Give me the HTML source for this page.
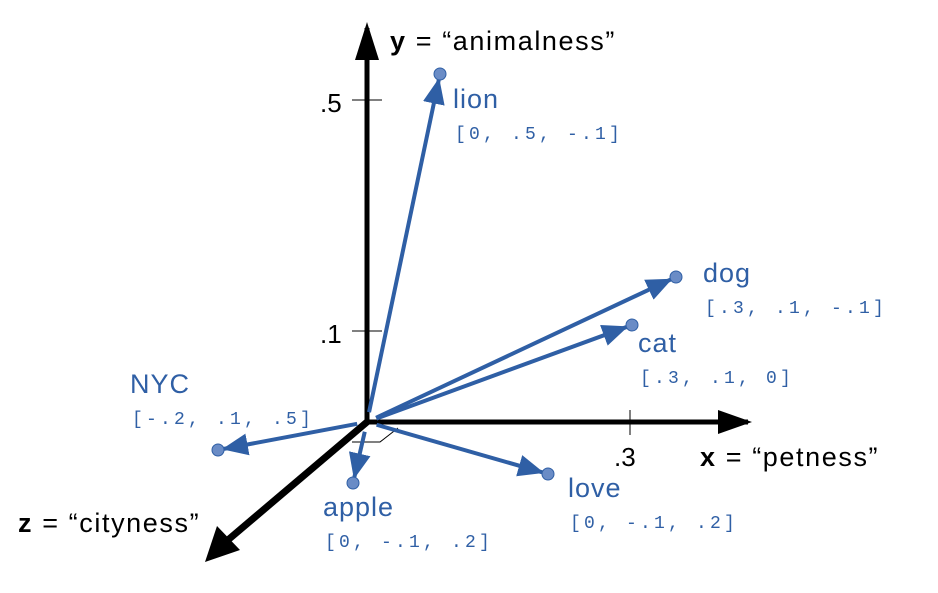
<!DOCTYPE html>
<html><head><meta charset="utf-8"><style>
html,body{margin:0;padding:0;background:#fff;}
svg{display:block;font-family:"Liberation Sans",sans-serif;}
.n{fill:#2f5fa5;font-size:27px;letter-spacing:1px;}
.v{fill:#2f5fa5;font-size:18px;letter-spacing:3.2px;font-family:"Liberation Mono",monospace;}
.a{fill:#000;font-size:27px;letter-spacing:1.6px;}
.t{fill:#000;font-size:26px;}
</style></head><body>
<svg id="c" width="938" height="593" viewBox="0 0 938 593">
<defs>
<marker id="bb" markerWidth="26" markerHeight="22" refX="24" refY="11" orient="auto" markerUnits="userSpaceOnUse" viewBox="0 0 26 22"><path d="M0,0 L26,11 L0,22z" fill="#2f5fa5"/></marker>
</defs>
<g>
<line x1="367" y1="422" x2="367" y2="28" stroke="#000" stroke-width="5"/>
<path d="M355,60 L367,22 L379,60z" fill="#000"/>
<line x1="367" y1="422" x2="748" y2="422" stroke="#000" stroke-width="5"/>
<path d="M718,410 L752,422 L718,434z" fill="#000"/>
<line x1="367" y1="422" x2="222" y2="545" stroke="#000" stroke-width="7"/>
<path d="M205,562 L217,526 L240,550z" fill="#000"/>
<line x1="352" y1="100" x2="382" y2="100" stroke="#000" stroke-width="1"/>
<line x1="352" y1="331" x2="382" y2="331" stroke="#000" stroke-width="1"/>
<line x1="630" y1="410" x2="630" y2="435" stroke="#000" stroke-width="1"/>
<path d="M352,442 L380,442 L398,428" fill="none" stroke="#000" stroke-width="1"/>
<text class="a" x="390" y="50"><tspan font-weight="bold">y</tspan> = “animalness”</text>
<text class="a" x="700" y="466"><tspan font-weight="bold">x</tspan> = “petness”</text>
<text class="a" x="18" y="532"><tspan font-weight="bold">z</tspan> = “cityness”</text>
<text class="t" x="320" y="112">.5</text>
<text class="t" x="320" y="343">.1</text>
<text class="t" x="614" y="466">.3</text>
</g>
<g id="vecs"></g>
</svg>
<script>
// words and their vectors (labels), with projected 2D screen-plane coordinates
const words = ["lion","dog","cat","NYC","apple","love"];
const vecLabels = ["[0, .5, -.1]","[.3, .1, -.1]","[.3, .1, 0]","[-.2, .1, .5]","[0, -.1, .2]","[0, -.1, .2]"];
const projX = [73, 309, 265, -149, -14, 181];
const projY = [348, 145, 97, -28, -61, -52];
const labelDX = [13, 27, 6, -88, -30, 20];
const labelDY = [34, 5, 27, -57, 33, 23];
const ox = 367, oy = 422;
function sx(v){return ox + v;}
function sy(v){return oy - v;}
const g = document.getElementById('vecs');
const NS = "http://www.w3.org/2000/svg";
for (let i = 0; i < words.length; i++) {
  const x = sx(projX[i]), y = sy(projY[i]);
  const dx = x - ox, dy = y - oy, L = Math.hypot(dx, dy);
  const st = 10;
  const line = document.createElementNS(NS, 'line');
  
  
  line.setAttribute('x1', ox + dx / L * st); line.setAttribute('y1', oy + dy / L * st);
  line.setAttribute('x2', x - dx / L * 6); line.setAttribute('y2', y - dy / L * 6);
  line.setAttribute('stroke', '#2f5fa5'); line.setAttribute('stroke-width', '4');
  line.setAttribute('marker-end', 'url(#bb)');
  g.appendChild(line);
  const c = document.createElementNS(NS, 'circle');
  
  
  c.setAttribute('cx', x); c.setAttribute('cy', y); c.setAttribute('r', 6);
  c.setAttribute('fill', '#6a8cc6'); c.setAttribute('stroke', '#2f5fa5'); c.setAttribute('stroke-width', '1');
  g.appendChild(c);
  const t = document.createElementNS(NS, 'text');
  
  
  t.setAttribute('class', 'n'); t.setAttribute('x', x + labelDX[i]); t.setAttribute('y', y + labelDY[i]);
  t.textContent = words[i];
  g.appendChild(t);
  const v = document.createElementNS(NS, 'text');
  
  
  v.setAttribute('class', 'v'); v.setAttribute('x', x + labelDX[i] + 2); v.setAttribute('y', y + labelDY[i] + 31);
  v.setAttribute('xml:space', 'preserve'); v.style.whiteSpace = 'pre';
  v.textContent = vecLabels[i];
  g.appendChild(v);
}
</script>
</body></html>
